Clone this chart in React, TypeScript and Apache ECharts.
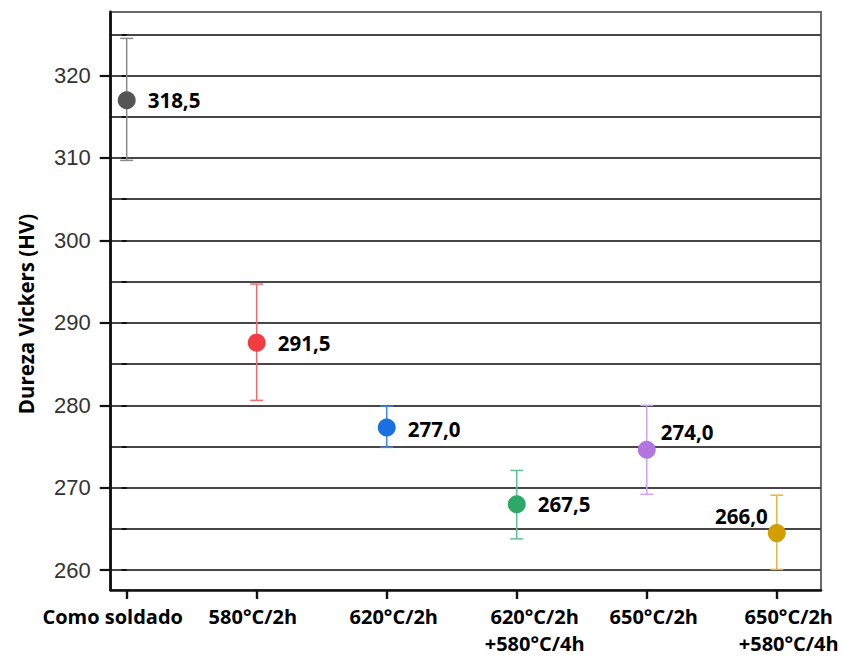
import React, { useEffect, useRef } from "react";
import * as echarts from "echarts";

const categories = [
  "Como soldado",
  "580°C/2h",
  "620°C/2h",
  "620°C/2h\n+580°C/4h",
  "650°C/2h",
  "650°C/2h\n+580°C/4h",
];
const means = [317.0, 287.6, 277.3, 268.0, 274.6, 264.5];
const upper = [324.5, 294.7, 279.9, 272.1, 280.0, 269.1];
const lower = [309.7, 280.6, 274.9, 263.8, 269.2, 260.1];
const valueLabels = ["318,5", "291,5", "277,0", "267,5", "274,0", "266,0"];
const yMajorTicks = [260, 270, 280, 290, 300, 310, 320];
const yMinorTicks = [260, 265, 270, 275, 280, 285, 290, 295, 300, 305, 310, 315, 320, 325];

const pointColors = ["#555555", "#ef3d42", "#1b6fe2", "#2ea866", "#b276e0", "#d39e00"];
const barColors = ["#8a8a8a", "#f26d70", "#3f86ea", "#62c28f", "#d0a3f0", "#e3b63c"];
// horizontal nudge of each category label, in fractions of a category step
const labelShift = [-0.108, -0.03, 0.054, 0.138, 0.054, 0.092];

export default function App() {
  const ref = useRef<HTMLDivElement>(null);
  useEffect(() => {
    if (!ref.current) return;
    const chart = echarts.init(ref.current, null, { renderer: "svg" });
    const xIdx = categories.map((_, i) => i);
    const labelPos = xIdx.map((i) => i + labelShift[i]);
    const labelCfg: any[] = [
      { position: "right", distance: 12, offset: [0, 0] },
      { position: "right", distance: 12, offset: [0, 0] },
      { position: "right", distance: 12, offset: [0, 1] },
      { position: "right", distance: 12, offset: [0, 0] },
      { position: "right", distance: 5, offset: [0, -18] },
      { position: "left", distance: 0, offset: [0, -17] },
    ];
    chart.setOption({
      animation: false,
      grid: {
        left: 110.7,
        top: 12,
        right: 22,
        bottom: 67,
        show: true,
        borderColor: "#6a6a6a",
        borderWidth: 2,
        containLabel: false,
      },
      xAxis: {
        type: "value",
        min: -0.123,
        max: 5.34,
        axisLine: { show: true, lineStyle: { color: "#111", width: 2.6 } },
        axisTick: {
          show: true,
          customValues: xIdx,
          length: 9,
          lineStyle: { color: "#111", width: 2.4 },
        },
        splitLine: { show: false },
        axisLabel: {
          customValues: labelPos,
          margin: 13,
          showMinLabel: true,
          showMaxLabel: true,
          hideOverlap: false,
          fontFamily: "Open Sans",
          fontWeight: "bold",
          fontSize: 20,
          color: "#000",
          lineHeight: 27,
          formatter: (v: number) => categories[Math.round(v)],
        },
      },
      yAxis: [
        {
          type: "value",
          min: 257.6,
          max: 327.7,
          axisLine: { show: false },
          axisTick: {
            show: true,
            customValues: yMinorTicks,
            length: 5,
            lineStyle: { color: "#111", width: 2 },
          },
          axisLabel: { show: false },
          splitLine: { show: true, lineStyle: { color: "#474747", width: 1.8 } },
        },
        {
          type: "value",
          min: 257.6,
          max: 327.7,
          position: "left",
          name: "Dureza Vickers (HV)",
          nameLocation: "middle",
          nameGap: 74,
          nameTextStyle: {
            fontFamily: "Open Sans",
            fontWeight: "bold",
            fontSize: 20.5,
            color: "#000",
            padding: [0, 26, 0, 0],
          },
          axisLine: { show: true, lineStyle: { color: "#111", width: 2.8 } },
          axisTick: {
            show: true,
            customValues: yMajorTicks,
            length: 11,
            lineStyle: { color: "#111", width: 2.2 },
          },
          axisLabel: {
            customValues: yMajorTicks,
            margin: 20,
            showMinLabel: true,
            showMaxLabel: true,
            fontFamily: "Liberation Sans",
            fontSize: 22,
            color: "#333",
          },
          splitLine: { show: false },
        },
      ],
      series: [
        {
          type: "custom",
          yAxisIndex: 0,
          z: 2,
          encode: { x: 0, y: [1, 2] },
          data: xIdx.map((i) => [i, lower[i], upper[i]]),
          renderItem: (params: any, api: any) => {
            const x = api.value(0);
            const lo = api.coord([x, api.value(1)]);
            const hi = api.coord([x, api.value(2)]);
            const hw = 6.5;
            const style = { stroke: barColors[params.dataIndex], lineWidth: 1.5 };
            return {
              type: "group",
              children: [
                { type: "line", shape: { x1: lo[0], y1: lo[1], x2: hi[0], y2: hi[1] }, style },
                { type: "line", shape: { x1: lo[0] - hw, y1: lo[1], x2: lo[0] + hw, y2: lo[1] }, style },
                { type: "line", shape: { x1: hi[0] - hw, y1: hi[1], x2: hi[0] + hw, y2: hi[1] }, style },
              ],
            };
          },
        },
        {
          type: "scatter",
          yAxisIndex: 0,
          z: 3,
          symbol: "circle",
          symbolSize: 18,
          data: xIdx.map((i) => ({
            value: [i, means[i]],
            itemStyle: { color: pointColors[i], opacity: 1 },
            label: {
              show: true,
              formatter: valueLabels[i],
              ...labelCfg[i],
              fontFamily: "Open Sans",
              fontWeight: "bold",
              fontSize: 20.5,
              color: "#000",
            },
          })),
        },
      ],
    });
    return () => chart.dispose();
  }, []);
  return <div ref={ref} style={{ width: 843, height: 657, position: "absolute", left: 0, top: 0 }} />;
}
